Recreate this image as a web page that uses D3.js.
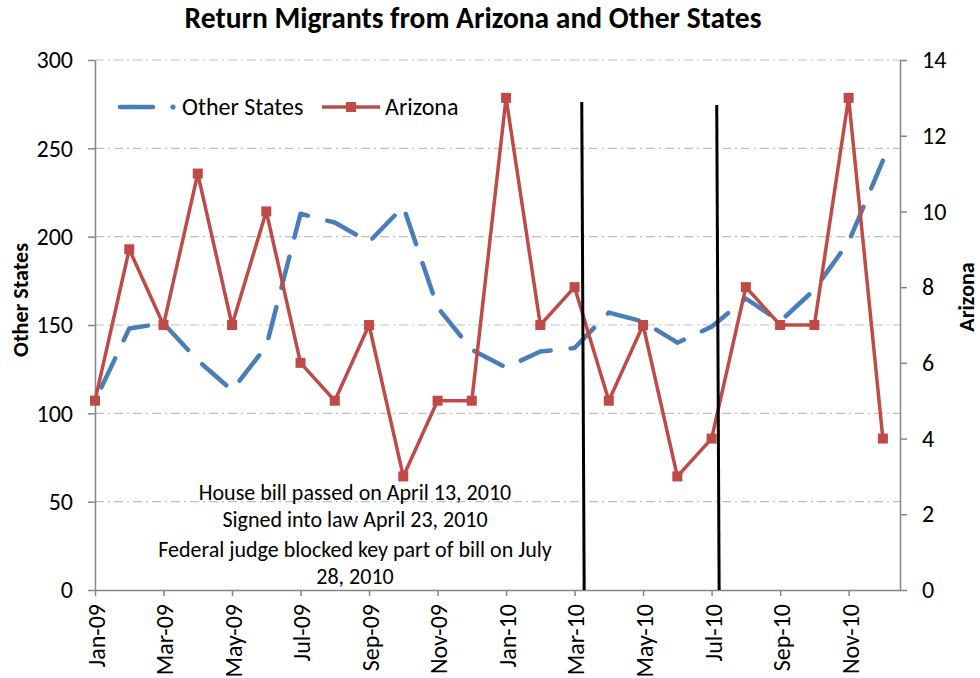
<!DOCTYPE html>
<html>
<head>
<meta charset="utf-8">
<script src="https://cdn.jsdelivr.net/npm/d3@7.9.0/dist/d3.min.js"></script>
<style>
  body { margin: 0; background: #fff; }
  svg, svg text { font-family: Carlito, Lato, "Open Sans", sans-serif; }
</style>
</head>
<body>
<div id="chart"></div>
<script>
// data
const months = ["Jan-09","Feb-09","Mar-09","Apr-09","May-09","Jun-09","Jul-09","Aug-09","Sep-09","Oct-09","Nov-09","Dec-09",
                "Jan-10","Feb-10","Mar-10","Apr-10","May-10","Jun-10","Jul-10","Aug-10","Sep-10","Oct-10","Nov-10","Dec-10"];
const otherStates = [107,148,151,130,113,138,213,208,197,217,160,136,126,135,137,157,152,140,149,165,152,170,197,243];
const arizona = [5,9,7,11,7,10,6,5,7,3,5,5,13,7,8,5,7,3,4,8,7,7,13,4];
const leftTicks = [0,50,100,150,200,250,300];
const rightTicks = [0,2,4,6,8,10,12,14];
const notes = ["House bill passed on April 13, 2010", "Signed into law April 23, 2010",
               "Federal judge blocked key part of bill on July", "28, 2010"];
// event markers (month index, drawn as slightly slanted lines like the original)
const eventLines = [[14.21, 14.28], [18.15, 18.22]];

const W = 980, H = 678;
const margin = {top: 60, right: 80, bottom: 88, left: 95};
const width = W - margin.left - margin.right,
      height = H - margin.top - margin.bottom;

const svg = d3.select("#chart").append("svg")
    .attr("width", W).attr("height", H);

const g = svg.append("g")
    .attr("transform", `translate(${margin.left},${margin.top})`);

const x = d3.scaleLinear().domain([0, 23.5]).range([0, width]);
const yL = d3.scaleLinear().domain([0, 300]).range([height, 0]);
const yR = d3.scaleLinear().domain([0, 14]).range([height, 0]);

// gridlines
g.append("g").selectAll("line")
  .data(leftTicks.slice(1))
  .join("line")
    .attr("x1", 0).attr("x2", width)
    .attr("y1", d => yL(d)).attr("y2", d => yL(d))
    .attr("stroke", "#bfbfbf").attr("stroke-width", 1.2)
    .attr("stroke-dasharray", "9,4,2,4");

// axes
const axisColor = "#868686";
function styleAxis(sel) {
  sel.attr("font-family", null).attr("font-size", null);
  sel.select(".domain").attr("stroke", axisColor).attr("stroke-width", 1.5);
  sel.selectAll(".tick line").attr("stroke", axisColor).attr("stroke-width", 1.5);
  sel.selectAll(".tick text").attr("fill", "#000").style("font-size", "24px");
}

g.append("g")
  .call(d3.axisLeft(yL).tickValues(leftTicks).tickSize(7).tickSizeOuter(0).tickPadding(15))
  .call(styleAxis);

g.append("g")
  .attr("transform", `translate(${width},0)`)
  .call(d3.axisRight(yR).tickValues(rightTicks).tickSize(7).tickSizeOuter(0).tickPadding(15))
  .call(styleAxis);

const xAx = g.append("g")
  .attr("transform", `translate(0,${height})`)
  .call(d3.axisBottom(x).tickValues(d3.range(0, 24, 2)).tickFormat(i => months[i])
        .tickSize(6).tickSizeOuter(0))
  .call(styleAxis);
xAx.selectAll(".tick text")
  .attr("text-anchor", "end")
  .attr("transform", "rotate(-90)")
  .attr("x", -14).attr("y", 1).attr("dy", "0.35em");

// axis titles
svg.append("text")
  .attr("transform", `translate(28,${300}) rotate(-90)`)
  .attr("text-anchor", "middle")
  .style("font-size", "22px").style("font-weight", "bold")
  .text("Other States");
svg.append("text")
  .attr("transform", `translate(974,${297}) rotate(-90)`)
  .attr("text-anchor", "middle")
  .style("font-size", "22px").style("font-weight", "bold")
  .text("Arizona");

// title
svg.append("text")
  .attr("x", 473).attr("y", 28)
  .attr("text-anchor", "middle")
  .style("font-size", "29.5px").style("font-weight", "bold")
  .text("Return Migrants from Arizona and Other States");

const blue = "#4a7ebb", red = "#be4b48";

// other states line
const otherPath = g.append("path")
  .datum(otherStates)
  .attr("fill", "none")
  .attr("stroke", blue).attr("stroke-width", 4.5)
  .attr("stroke-linecap", "round").attr("stroke-linejoin", "round")
  .attr("stroke-dasharray", "32,20")
  .attr("d", d3.line().x((d, i) => x(i)).y(d => yL(d)));
// shift the dash pattern so the line ends inside a dash, as in the original
const len = otherPath.node().getTotalLength();
otherPath.attr("stroke-dashoffset", ((30 - (len % 52)) + 52) % 52);

// arizona line
g.append("path")
  .datum(arizona)
  .attr("fill", "none")
  .attr("stroke", red).attr("stroke-width", 3.5)
  .attr("stroke-linejoin", "round")
  .attr("d", d3.line().x((d, i) => x(i)).y(d => yR(d)));

g.append("g").selectAll("rect")
  .data(arizona)
  .join("rect")
    .attr("x", (d, i) => x(i) - 5).attr("y", d => yR(d) - 5)
    .attr("width", 10).attr("height", 10)
    .attr("fill", red);

// event lines
g.append("g").selectAll("line")
  .data(eventLines)
  .join("line")
    .attr("x1", d => x(d[0])).attr("x2", d => x(d[1]))
    .attr("y1", (d, i) => i === 0 ? 42 : 45).attr("y2", height)
    .attr("stroke", "#000").attr("stroke-width", 3);

// annotation
const noteY = [500, 527, 557, 584];
svg.append("g").selectAll("text")
  .data(notes)
  .join("text")
    .attr("x", 355).attr("y", (d, i) => noteY[i])
    .attr("text-anchor", "middle")
    .style("font-size", "22px")
    .text(d => d);

// legend
const leg = svg.append("g");
leg.append("line")
  .attr("x1", 120).attr("x2", 153).attr("y1", 107).attr("y2", 107)
  .attr("stroke", blue).attr("stroke-width", 4.5).attr("stroke-linecap", "round");
leg.append("circle")
  .attr("cx", 173).attr("cy", 107).attr("r", 2.6).attr("fill", blue);
leg.append("text")
  .attr("x", 182).attr("y", 115).style("font-size", "24px").text("Other States");
leg.append("line")
  .attr("x1", 322).attr("x2", 380).attr("y1", 107).attr("y2", 107)
  .attr("stroke", red).attr("stroke-width", 3.5);
leg.append("rect")
  .attr("x", 346).attr("y", 102).attr("width", 10).attr("height", 10).attr("fill", red);
leg.append("text")
  .attr("x", 385).attr("y", 115).style("font-size", "24px").text("Arizona");
</script>
</body>
</html>
